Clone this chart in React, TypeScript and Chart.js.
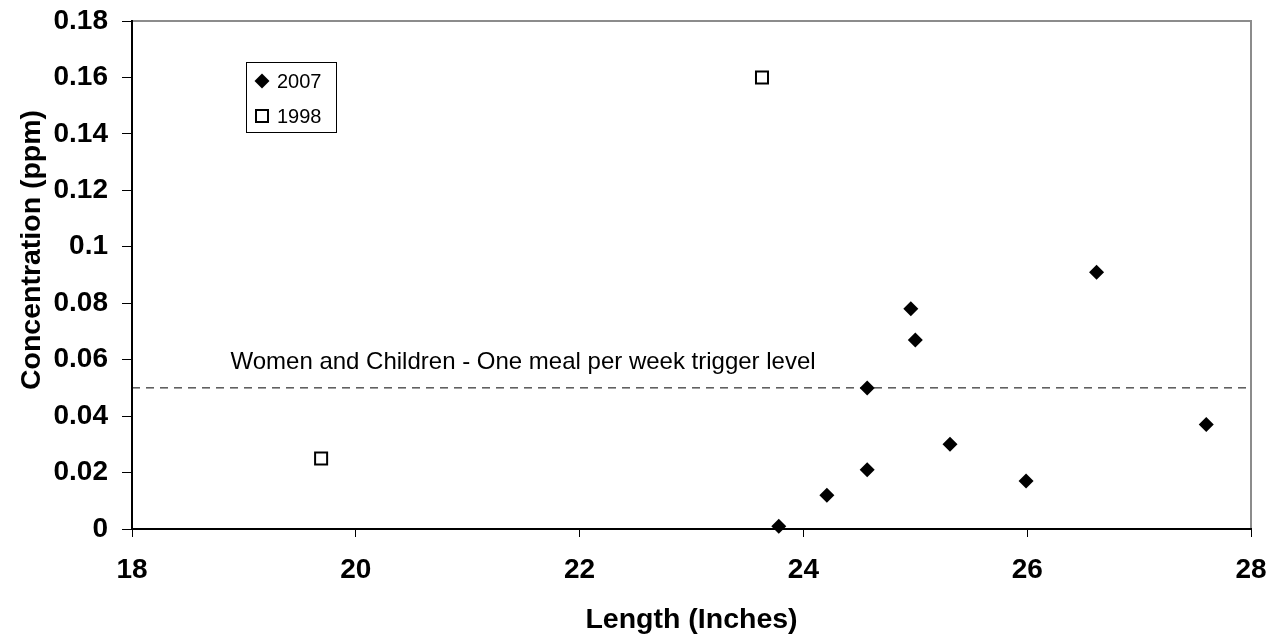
import React, { useEffect, useRef } from "react";
import { Chart, registerables } from "chart.js";

Chart.register(...registerables);

const FONT = "Arial, 'Liberation Sans', Helvetica, sans-serif";

// ---- Data ----
const seriesNames = ["2007", "1998"];
const lengths2007 = [23.78, 24.21, 24.57, 24.57, 24.96, 25.0, 25.31, 25.99, 26.62, 27.6];
const conc2007 = [0.001, 0.012, 0.021, 0.05, 0.078, 0.067, 0.03, 0.017, 0.091, 0.037];
const lengths1998 = [19.69, 23.63];
const conc1998 = [0.025, 0.16];
const triggerLevel = 0.05;
const triggerRange = [18, 28];
const triggerLabel = "Women and Children - One meal per week trigger level";
const triggerLabelX = 18.88;
const xTicks = [18, 20, 22, 24, 26, 28];
const yTicks = [0, 0.02, 0.04, 0.06, 0.08, 0.1, 0.12, 0.14, 0.16, 0.18];
const xTitle = "Length (Inches)";
const yTitle = "Concentration (ppm)";

const fmtY = (v: number) => String(parseFloat(Number(v).toFixed(2)));

const decorPlugin = {
  id: "decor",
  beforeDraw(chart: any) {
    const { ctx, chartArea: a } = chart;
    ctx.save();
    ctx.fillStyle = "#fff";
    ctx.fillRect(0, 0, chart.width, chart.height);
    ctx.strokeStyle = "#8c8c8c";
    ctx.lineWidth = 2;
    ctx.beginPath();
    ctx.moveTo(a.left, a.top);
    ctx.lineTo(a.right, a.top);
    ctx.lineTo(a.right, a.bottom);
    ctx.stroke();
    ctx.restore();
  },
  afterDatasetsDraw(chart: any) {
    const { ctx, chartArea: a, scales } = chart;
    ctx.save();
    // trigger label
    ctx.fillStyle = "#000";
    ctx.font = `24px ${FONT}`;
    ctx.textAlign = "left";
    ctx.textBaseline = "alphabetic";
    ctx.fillText(
      triggerLabel,
      scales.x.getPixelForValue(triggerLabelX),
      scales.y.getPixelForValue(triggerLevel) - 19
    );

    // legend box
    const bx = a.left + 114;
    const by = a.top + 41;
    const bw = 90;
    const bh = 70;
    ctx.fillStyle = "#fff";
    ctx.fillRect(bx, by, bw, bh);
    ctx.strokeStyle = "#000";
    ctx.lineWidth = 1;
    ctx.strokeRect(bx + 0.5, by + 0.5, bw, bh);

    const mx = bx + 16;
    const y1 = by + 19;
    const y2 = by + 54;
    // diamond
    ctx.fillStyle = "#000";
    ctx.beginPath();
    ctx.moveTo(mx - 7.5, y1);
    ctx.lineTo(mx, y1 - 7.5);
    ctx.lineTo(mx + 7.5, y1);
    ctx.lineTo(mx, y1 + 7.5);
    ctx.closePath();
    ctx.fill();
    // square
    ctx.lineWidth = 2;
    ctx.strokeStyle = "#000";
    ctx.strokeRect(mx - 6, y2 - 6, 12, 12);

    ctx.fillStyle = "#000";
    ctx.font = `20px ${FONT}`;
    ctx.textBaseline = "middle";
    ctx.fillText(seriesNames[0], bx + 31, y1 + 1);
    ctx.fillText(seriesNames[1], bx + 31, y2 + 1);

    // y axis title
    ctx.translate(32, 250);
    ctx.rotate(-Math.PI / 2);
    ctx.font = `bold 28.5px ${FONT}`;
    ctx.textAlign = "center";
    ctx.textBaseline = "middle";
    ctx.fillText(yTitle, 0, 0);
    ctx.restore();
  },
};

export default function App() {
  const ref = useRef<HTMLCanvasElement | null>(null);

  useEffect(() => {
    if (!ref.current) return;
    const tickFont = { family: FONT, size: 28, weight: "bold" as const };
    const chart = new Chart(ref.current, {
      type: "scatter",
      data: {
        datasets: [
          {
            label: seriesNames[0],
            data: lengths2007.map((x, i) => ({ x, y: conc2007[i] })),
            pointStyle: "rectRot",
            pointRadius: 7.5,
            pointBackgroundColor: "#000",
            pointBorderColor: "#000",
            pointBorderWidth: 0,
            showLine: false,
            clip: false,
            order: 0,
          } as any,
          {
            label: seriesNames[1],
            data: lengths1998.map((x, i) => ({ x, y: conc1998[i] })),
            pointStyle: "rect",
            pointRadius: 8.5,
            pointBackgroundColor: "#fff",
            pointBorderColor: "#000",
            pointBorderWidth: 2,
            showLine: false,
            clip: false,
            order: 0,
          } as any,
          {
            label: "trigger",
            data: triggerRange.map((x) => ({ x, y: triggerLevel })),
            showLine: true,
            borderColor: "#000",
            borderWidth: 1,
            borderDash: [8, 6],
            pointRadius: 0,
            order: 10,
          } as any,
        ],
      },
      options: {
        animation: false,
        responsive: false,
        devicePixelRatio: 1,
        events: [],
        layout: { padding: { top: 21, right: 32, bottom: 0, left: 0 } },
        plugins: {
          legend: { display: false },
          tooltip: { enabled: false },
        },
        scales: {
          x: {
            type: "linear",
            min: 18,
            max: 28,
            afterBuildTicks: (s: any) => {
              s.ticks = xTicks.map((v) => ({ value: v }));
            },
            afterFit: (s: any) => {
              s.height = 110;
              s.paddingLeft = 0;
              s.paddingRight = 0;
            },
            ticks: {
              font: tickFont,
              color: "#000",
              padding: 16,
              maxRotation: 0,
              autoSkip: false,
            },
            grid: {
              drawOnChartArea: false,
              drawTicks: true,
              tickLength: 8,
              color: "#000",
              tickWidth: 1,
            },
            border: { display: true, color: "#000", width: 2 },
            title: {
              display: true,
              text: xTitle,
              color: "#000",
              font: { family: FONT, size: 28.5, weight: "bold" },
              padding: { top: 0, bottom: 2 },
            },
          },
          y: {
            type: "linear",
            min: 0,
            max: 0.18,
            afterBuildTicks: (s: any) => {
              s.ticks = yTicks.map((v) => ({ value: v }));
            },
            afterFit: (s: any) => {
              s.width = 132;
              s.paddingTop = 0;
              s.paddingBottom = 0;
            },
            ticks: {
              font: tickFont,
              color: "#000",
              padding: 14,
              autoSkip: false,
              callback: (v: any) => fmtY(v),
            },
            grid: {
              drawOnChartArea: false,
              drawTicks: true,
              tickLength: 10,
              color: "#000",
              tickWidth: 1,
            },
            border: { display: true, color: "#000", width: 2 },
          },
        },
      },
      plugins: [decorPlugin],
    });
    return () => chart.destroy();
  }, []);

  return (
    <div style={{ position: "fixed", left: 0, top: 0, width: 1283, height: 639, background: "#fff" }}>
      <canvas ref={ref} width={1283} height={639} style={{ display: "block" }} />
    </div>
  );
}
